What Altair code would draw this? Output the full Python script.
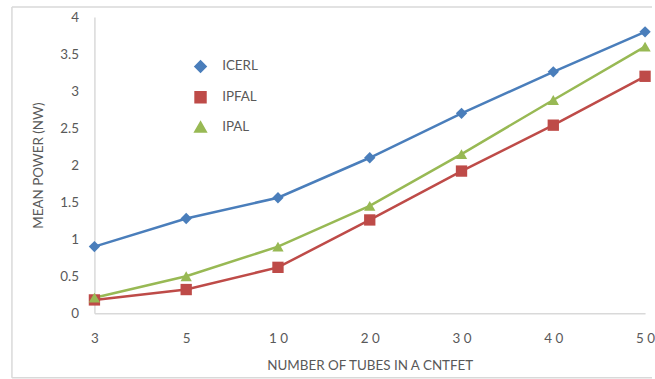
import altair as alt
import pandas as pd

# Number of tubes in a CNTFET (categorical, equally spaced on the axis)
tubes = [3, 5, 10, 20, 30, 40, 50]

# Mean power (nW) for each logic style
icerl = [0.90, 1.28, 1.56, 2.10, 2.70, 3.26, 3.80]
ipfal = [0.18, 0.32, 0.62, 1.26, 1.92, 2.54, 3.20]
ipal = [0.21, 0.50, 0.90, 1.45, 2.15, 2.88, 3.60]

series_names = ["ICERL", "IPFAL", "IPAL"]
series_values = [icerl, ipfal, ipal]
series_colors = ["#4A7EBB", "#BE4B48", "#98B954"]
series_shapes = ["diamond", "square", "triangle-up"]

# Legend glyphs: a short line segment with the series marker in the middle
legend_paths = [
    "M-3.6,0H3.6M0,-0.65L0.65,0L0,0.65L-0.65,0Z",
    "M-3.6,0H3.6M-0.8,-0.8H0.8V0.8H-0.8Z",
    "M-3.6,0H3.6M0,-0.95L0.85,0.7H-0.85Z",
]

y_ticks = [0, 0.5, 1, 1.5, 2, 2.5, 3, 3.5, 4]

rows = []
for name, vals in zip(series_names, series_values):
    for t, v in zip(tubes, vals):
        rows.append({"tubes": str(t), "power": v, "series": name, "marker": name})
df = pd.DataFrame(rows)

FONT = "Lato"
TEXT = "#595959"
FRAME = "#D9D9D9"

shape_expr = " : ".join(
    f"datum.value == '{n}' ? '{p}'" for n, p in zip(series_names[:-1], legend_paths[:-1])
) + f" : '{legend_paths[-1]}'"
series_color_expr = "scale('color', datum.value)"

x_enc = alt.X(
    "tubes:O",
    sort=[str(t) for t in tubes],
    scale=alt.Scale(type="point", padding=0),
    axis=alt.Axis(
        title="NUMBER OF TUBES IN A CNTFET",
        labelAngle=0,
        labelExpr="length(datum.label) > 1 ? slice(datum.label, 0, 1) + ' ' + slice(datum.label, 1) : datum.label",
        labelPadding=18,
        titlePadding=14,
    ),
)
y_enc = alt.Y(
    "power:Q",
    scale=alt.Scale(domain=[0, 4], nice=False, zero=True),
    axis=alt.Axis(
        title="MEAN POWER (NW)",
        values=y_ticks,
        format=".1~f",
        labelPadding=16,
        titlePadding=14,
    ),
)
color_scale = alt.Scale(domain=series_names, range=series_colors)

base = alt.Chart(df)

lines = base.mark_line(strokeWidth=2.5).encode(
    x=x_enc,
    y=y_enc,
    color=alt.Color(
        "series:N",
        scale=color_scale,
        sort=series_names,
        legend=alt.Legend(
            title=None,
            orient="none",
            legendX=100,
            legendY=43,
            padding=0,
            symbolSize=100,
            symbolStrokeWidth=2.5,
            symbolType=alt.ExprRef(expr=shape_expr),
            symbolFillColor=alt.ExprRef(expr=series_color_expr),
            symbolStrokeColor=alt.ExprRef(expr=series_color_expr),
            labelOffset=15,
            labelFont=FONT,
            labelFontSize=13.5,
            labelColor=TEXT,
            rowPadding=10,
        ),
    ),
    detail="series:N",
)

points = base.mark_point(filled=True, opacity=1, size=130).encode(
    x=x_enc,
    y=y_enc,
    color=alt.Color("series:N", scale=color_scale, legend=None),
    shape=alt.Shape(
        "marker:N",
        scale=alt.Scale(domain=series_names, range=series_shapes),
        legend=None,
    ),
)

# Light outer frame (top, left and bottom edges)
frame_src = alt.Chart(alt.Data(values=[{"edge": 1}]))
frame_top = frame_src.mark_rule(color=FRAME, strokeWidth=1.5).encode(
    x=alt.value(-83), x2=alt.value(561), y=alt.value(-10)
)
frame_left = frame_src.mark_rule(color=FRAME, strokeWidth=1.5).encode(
    x=alt.value(-83), y=alt.value(-10), y2=alt.value(363)
)
frame_bottom = frame_src.mark_rule(color=FRAME, strokeWidth=1.5).encode(
    x=alt.value(-83), x2=alt.value(561), y=alt.value(363)
)

chart = (
    alt.layer(frame_top, frame_left, frame_bottom, lines, points)
    .properties(
        width=554,
        height=298,
        padding={"left": 11, "top": 5, "right": 0, "bottom": 0},
        background="white",
    )
    .configure_view(stroke=None)
    .configure_axis(
        grid=False,
        ticks=False,
        domainColor=FRAME,
        domainWidth=1.5,
        labelFont=FONT,
        labelFontSize=13.5,
        labelColor=TEXT,
        titleFont=FONT,
        titleFontSize=13.5,
        titleFontWeight="normal",
        titleColor=TEXT,
    )
)

chart.save("out.html", embed_options={"renderer": "svg", "actions": False})
